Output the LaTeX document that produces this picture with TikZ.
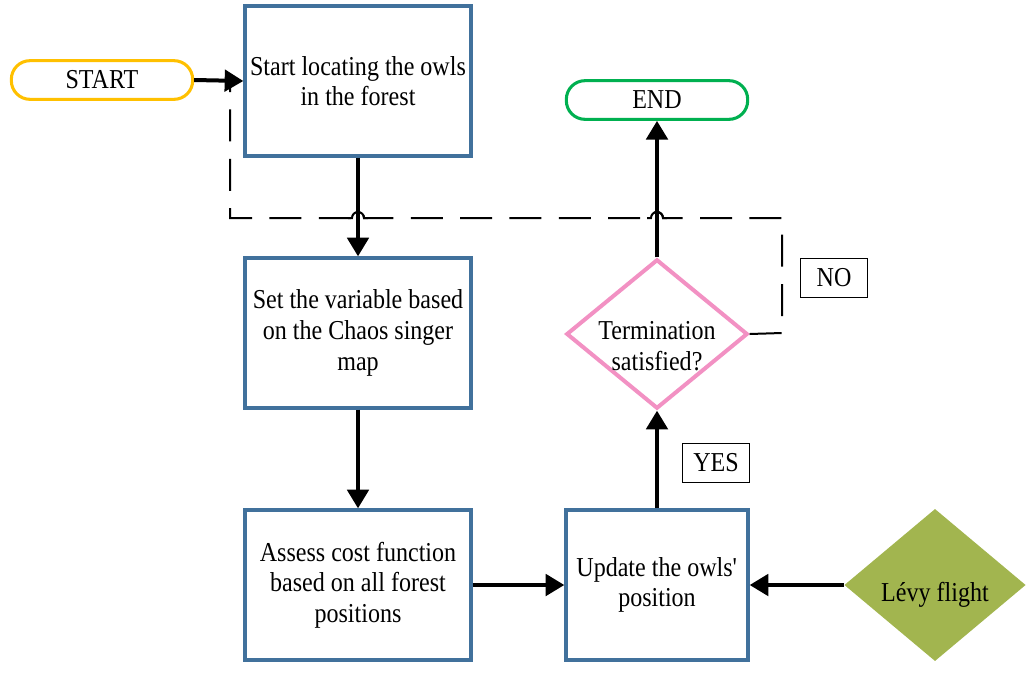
\documentclass[tikz,border=0pt]{standalone}
\usepackage{fontspec}
\setmainfont[FakeStretch=0.88]{Liberation Serif}
\usetikzlibrary{shapes.geometric,arrows.meta}
\definecolor{boxblue}{RGB}{65,113,156}
\definecolor{startor}{RGB}{255,192,0}
\definecolor{endgreen}{RGB}{0,176,80}
\definecolor{termpink}{RGB}{242,145,195}
\definecolor{levyolive}{RGB}{162,181,79}
\begin{document}
\begin{tikzpicture}[x=0.75pt,y=-0.75pt,
  txt/.style={font=\fontsize{20.5}{23}\selectfont,align=center,text=black},
  proc/.style={txt,draw=boxblue,line width=3pt,minimum width=169pt,minimum height=112pt,inner sep=0pt},
  pill/.style={txt,line width=2.3pt,rounded corners=14pt,minimum width=136pt,minimum height=29pt,inner sep=0pt},
  lab/.style={txt,draw=black,line width=0.9pt,minimum width=50pt,minimum height=29pt,inner sep=0pt},
  arr/.style={line width=3pt,-{Triangle[length=14pt,width=16pt]}},
  dashline/.style={line width=1.5pt,dash pattern=on 24pt off 13pt},
  hop/.style={line width=1.5pt},
]
\useasboundingbox (0,0) rectangle (1034,675);
\node[pill,draw=startor] (start) at (102,80) {START};
\node[proc] (b1) at (358,81) {Start locating the owls\\in the forest};
\node[proc] (b2) at (358,333) {Set the variable based\\on the Chaos singer\\map};
\node[proc] (b3) at (358,585) {Assess cost function\\based on all forest\\positions};
\node[proc,minimum width=136pt] (b4) at (657,585) {Update the owls\textquotesingle\\position};
\node[diamond,draw=termpink,line width=3pt,minimum width=136pt,minimum height=112pt,inner sep=0pt] (term) at (657,334) {};
\node[txt,inner sep=0pt] (termtxt) at ([yshift=-9pt]term.center) {Termination\\satisfied?};
\node[pill,draw=endgreen] (end) at (657,100) {END};
\node[txt,diamond,fill=levyolive,minimum width=136pt,minimum height=112pt,inner sep=0pt] (levy) at (935,585) {\mbox{}\\[6pt]L\'evy flight};
\node[lab] (yes) at (716,463) {YES};
\node[lab] (no) at (834,278) {NO};

\draw[arr] (start.east) -- (b1.west);
\draw[arr] (b1.south) -- (b2.north);
\draw[arr] (b2.south) -- (b3.north);
\draw[arr] (b3.east) -- (b4.west);
\draw[arr] (levy.west) -- (b4.east);
\draw[arr] (b4.north) -- (term.south);
\draw[arr] (term.north) -- (end.south);

\coordinate (n1) at (782,333);
\coordinate (n2) at (782,218);
\coordinate (n3) at (230,218);
\coordinate (n4) at (230,82);
\coordinate (h1) at (663,218);
\coordinate (h2) at (364,218);
\draw[dashline] (term.east) -- (n1) -- (n2) -- (h1)
  arc[start angle=0,end angle=-180,radius=6] -- (h2)
  arc[start angle=0,end angle=-180,radius=6] -- (n3) -- (n4);
\draw[hop] (h1) ++(4,0) -- (h1) arc[start angle=0,end angle=-180,radius=6] -- ++(-4,0);
\draw[hop] (h2) ++(4,0) -- (h2) arc[start angle=0,end angle=-180,radius=6] -- ++(-4,0);
\end{tikzpicture}
\end{document}
